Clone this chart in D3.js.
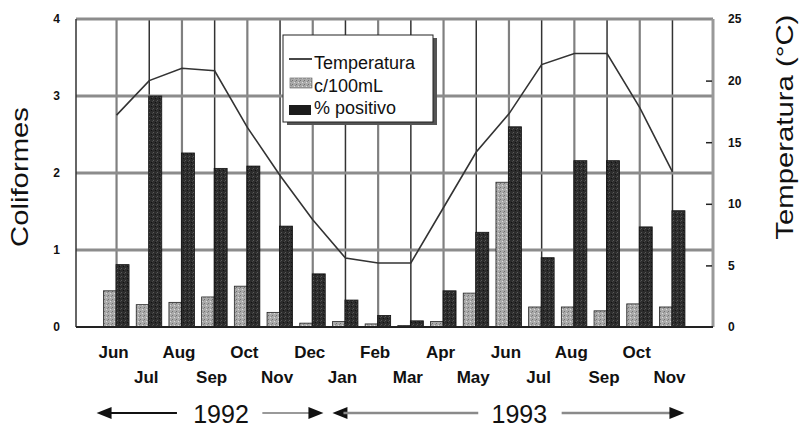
<!DOCTYPE html>
<html>
<head>
<meta charset="utf-8">
<script src="https://cdn.jsdelivr.net/npm/d3@7"></script>
<style>
  body { margin: 0; background: #fff; }
  text { font-family: "Liberation Sans", Arial, sans-serif; fill: #111; }
</style>
</head>
<body>
<div id="chart"></div>
<script>
// Month labels, Jun 1992 .. Nov 1993.
let months = ["Jun", "Jul", "Aug", "Sep", "Oct", "Nov", "Dec", "Jan", "Feb", "Mar", "Apr", "May",
              "Jun", "Jul", "Aug", "Sep", "Oct", "Nov"];
// Coliform counts (c/100mL) and % positive, read against the left axis.
let colCount = [0.47, 0.29, 0.32, 0.39, 0.53, 0.19, 0.05, 0.07, 0.04, 0.02, 0.07, 0.44,
                1.88, 0.26, 0.26, 0.21, 0.30, 0.26];
let colPositive = [0.81, 3.0, 2.26, 2.06, 2.09, 1.31, 0.69, 0.35, 0.15, 0.08, 0.47, 1.23,
                   2.60, 0.90, 2.16, 2.16, 1.30, 1.51];
// Temperature (°C), right axis.
let temperature = [17.2, 20.0, 21.0, 20.8, 16.2, 12.3, 8.7, 5.6, 5.2, 5.2, 9.7, 14.2,
                   17.3, 21.3, 22.2, 22.2, 17.8, 12.6];
let leftTicks = [0, 1, 2, 3, 4];
let rightTicks = [0, 5, 10, 15, 20, 25];
let legendLabels = ["Temperatura", "c/100mL", "% positivo"];

// Dimensions.
let margin = {top: 19, right: 86, bottom: 100, left: 76},
    width = 799 - margin.left - margin.right,
    height = 427 - margin.top - margin.bottom;

let svgRoot = d3.select("#chart")
  .append("svg")
  .attr("width", 799)
  .attr("height", 427);

// Textures for the bars.
let defs = svgRoot.append("defs");
let pLight = defs.append("pattern").attr("id", "lightTex").attr("patternUnits", "userSpaceOnUse")
  .attr("width", 4).attr("height", 4);
pLight.append("rect").attr("width", 4).attr("height", 4).attr("fill", "#aaaaaa");
pLight.append("rect").attr("x", 0).attr("y", 0).attr("width", 1).attr("height", 1).attr("fill", "#707070");
pLight.append("rect").attr("x", 2).attr("y", 2).attr("width", 1).attr("height", 1).attr("fill", "#dddddd");
pLight.append("rect").attr("x", 3).attr("y", 1).attr("width", 1).attr("height", 1).attr("fill", "#888888");
let pDark = defs.append("pattern").attr("id", "darkTex").attr("patternUnits", "userSpaceOnUse")
  .attr("width", 4).attr("height", 4);
pDark.append("rect").attr("width", 4).attr("height", 4).attr("fill", "#2c2c2c");
pDark.append("rect").attr("x", 1).attr("y", 1).attr("width", 1).attr("height", 1).attr("fill", "#5a5a5a");
pDark.append("rect").attr("x", 3).attr("y", 3).attr("width", 1).attr("height", 1).attr("fill", "#111");
pDark.append("rect").attr("x", 0).attr("y", 2).attr("width", 1).attr("height", 1).attr("fill", "#474747");

let svg = svgRoot.append("g")
  .attr("transform", "translate(" + margin.left + "," + margin.top + ")");

// Scales.
let x = d3.scalePoint()
  .domain(d3.range(months.length))
  .range([0, width])
  .padding(1.24);

let y = d3.scaleLinear().domain([0, 4]).range([height, 0]);
let yT = d3.scaleLinear().domain([0, 25]).range([height, 0]);

// Vertical gridlines at each month.
svg.append("g")
  .selectAll("line")
  .data(d3.range(months.length))
  .enter()
  .append("line")
  .attr("x1", function(d) { return x(d); })
  .attr("x2", function(d) { return x(d); })
  .attr("y1", 0)
  .attr("y2", height)
  .attr("stroke", function(d) { return d % 2 == 0 ? "#808080" : "#333"; })
  .attr("stroke-width", function(d) { return d % 2 == 0 ? 2.2 : 1.5; });

// Horizontal gridlines.
svg.append("g")
  .selectAll("line")
  .data(leftTicks.slice(1))
  .enter()
  .append("line")
  .attr("x1", 0)
  .attr("x2", width)
  .attr("y1", function(d) { return y(d); })
  .attr("y2", function(d) { return y(d); })
  .attr("stroke", "#8c8c8c")
  .attr("stroke-width", 3);

// Bars.
let barW = 12.5;
svg.append("g")
  .selectAll("rect")
  .data(colCount)
  .enter()
  .append("rect")
  .attr("x", function(d, i) { return x(i) - barW - 0.5; })
  .attr("y", function(d) { return y(d); })
  .attr("width", barW)
  .attr("height", function(d) { return height - y(d); })
  .attr("fill", "url(#lightTex)")
  .attr("stroke", "#222")
  .attr("stroke-width", 0.8);

svg.append("g")
  .selectAll("rect")
  .data(colPositive)
  .enter()
  .append("rect")
  .attr("x", function(d, i) { return x(i) - 0.5; })
  .attr("y", function(d) { return y(d); })
  .attr("width", barW + 0.5)
  .attr("height", function(d) { return height - y(d); })
  .attr("fill", "url(#darkTex)")
  .attr("stroke", "#111")
  .attr("stroke-width", 0.8);

// Temperature line.
svg.append("path")
  .datum(temperature)
  .attr("fill", "none")
  .attr("stroke", "#333")
  .attr("stroke-width", 1.6)
  .attr("d", d3.line()
    .x(function(d, i) { return x(i); })
    .y(function(d) { return yT(d); }));

// Frame: left dark, right gray, bottom dark.
svg.append("line").attr("x1", 0).attr("x2", 0).attr("y1", 0).attr("y2", height)
  .attr("stroke", "#333").attr("stroke-width", 1.5);
svg.append("line").attr("x1", width).attr("x2", width).attr("y1", 0).attr("y2", height)
  .attr("stroke", "#999").attr("stroke-width", 3);
svg.append("line").attr("x1", 0).attr("x2", width).attr("y1", height).attr("y2", height)
  .attr("stroke", "#222").attr("stroke-width", 2);

// Left axis labels.
let yAxis = svg.append("g")
  .call(d3.axisLeft(y).tickValues(leftTicks).tickFormat(d3.format("d")).tickSize(0).tickPadding(16));
yAxis.select(".domain").remove();
yAxis.selectAll("text")
  .style("font-size", "12px")
  .style("font-weight", "bold")
  .attr("fill", "#222");

// Right axis: ticks inward.
let yRight = svg.append("g")
  .attr("transform", "translate(" + width + ",0)")
  .call(d3.axisRight(yT).tickValues(rightTicks).tickSize(0).tickPadding(15));
yRight.select(".domain").remove();
yRight.selectAll("text")
  .style("font-size", "12px")
  .style("font-weight", "bold")
  .attr("fill", "#222");
yRight.selectAll(".tick")
  .filter(function(d) { return d > 0 && d < 25; })
  .append("line")
  .attr("x1", -7).attr("x2", -1)
  .attr("stroke", "#222").attr("stroke-width", 1.5);

// Month labels, alternating rows.
svg.append("g")
  .selectAll("text")
  .data(months)
  .enter()
  .append("text")
  .attr("x", function(d, i) { return x(i) - 3; })
  .attr("y", function(d, i) { return height + (i % 2 == 0 ? 31 : 56); })
  .attr("text-anchor", "middle")
  .style("font-size", "17px")
  .style("font-weight", "bold")
  .text(function(d) { return d; });

// Axis titles.
svg.append("text")
  .attr("transform", "translate(" + (-48) + "," + (y(2) + 4) + ") rotate(-90)")
  .attr("text-anchor", "middle")
  .attr("textLength", 140)
  .attr("lengthAdjust", "spacingAndGlyphs")
  .style("font-size", "24px")
  .text("Coliformes");

svg.append("text")
  .attr("transform", "translate(" + (width + 80) + "," + (yT(15) - 15) + ") rotate(-90)")
  .attr("text-anchor", "middle")
  .attr("textLength", 225)
  .attr("lengthAdjust", "spacingAndGlyphs")
  .style("font-size", "24px")
  .text("Temperatura (°C)");

// Year arrows under the months.
let arrowY = height + 86;
function arrowHead(tipX, dir) {
  svg.append("path")
    .attr("d", "M" + tipX + "," + arrowY + " L" + (tipX - dir * 15) + "," + (arrowY - 6) +
               " L" + (tipX - dir * 15) + "," + (arrowY + 6) + " Z")
    .attr("fill", "#111");
}
function arrowLine(x1, x2, color, w) {
  svg.append("line").attr("x1", x1).attr("x2", x2).attr("y1", arrowY).attr("y2", arrowY)
    .attr("stroke", color).attr("stroke-width", w);
}
// 1992
arrowHead(x(0) - 20, -1);
arrowLine(x(0) - 8, x(2) - 5, "#111", 2);
arrowLine(x(4) + 15, x(7) - 30, "#777", 1.5);
arrowHead(x(7) - 22, 1);
svg.append("text")
  .attr("x", (x(3) + x(4)) / 2 - 10)
  .attr("y", arrowY + 10)
  .attr("text-anchor", "middle")
  .style("font-size", "25px")
  .text("1992");
// 1993
arrowHead(x(7) - 13, -1);
arrowLine(x(7) - 2, x(11) + 2, "#8a8a8a", 2.5);
arrowLine(x(13) + 20, x(17), "#8a8a8a", 2.5);
arrowHead(x(17) + 12, 1);
svg.append("text")
  .attr("x", (x(12) + x(13)) / 2 - 6)
  .attr("y", arrowY + 10)
  .attr("text-anchor", "middle")
  .style("font-size", "25px")
  .text("1993");

// Legend.
let lg = svgRoot.append("g");
lg.append("rect").attr("x", 287).attr("y", 38).attr("width", 150).attr("height", 87).attr("fill", "#555");
lg.append("rect").attr("x", 283).attr("y", 35).attr("width", 150).attr("height", 87)
  .attr("fill", "#fff").attr("stroke", "#222").attr("stroke-width", 1);
lg.append("line").attr("x1", 289).attr("x2", 312).attr("y1", 59).attr("y2", 59)
  .attr("stroke", "#333").attr("stroke-width", 1.8);
lg.append("rect").attr("x", 290).attr("y", 78).attr("width", 22).attr("height", 10)
  .attr("fill", "url(#lightTex)").attr("stroke", "#555").attr("stroke-width", 0.6);
lg.append("rect").attr("x", 289).attr("y", 105).attr("width", 22).attr("height", 10)
  .attr("fill", "#1c1c1c");
lg.selectAll("text.leg")
  .data(legendLabels)
  .enter()
  .append("text")
  .attr("class", "leg")
  .attr("x", 314)
  .attr("y", function(d, i) { return 69 + i * 22.5; })
  .style("font-size", "18px")
  .text(function(d) { return d; });
</script>
</body>
</html>
